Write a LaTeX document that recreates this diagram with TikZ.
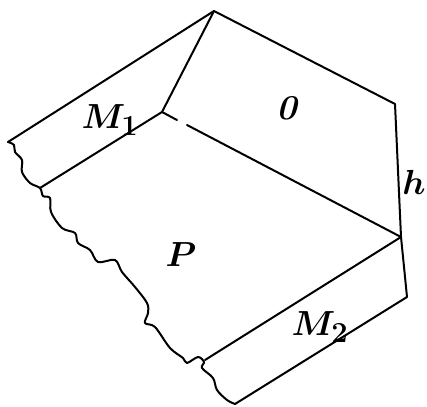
\documentclass[tikz,border=0pt]{standalone}
\tikzstyle{face} = [font=\fontsize{24.88}{25}\selectfont\boldmath\bfseries\itshape, inner sep=0pt, scale=1.4, transform shape]
\tikzstyle{edge} = [line width=2pt, line cap=round, line join=round]
\tikzstyle{torn} = [line width=2pt, line cap=round, line join=round, smooth, tension=0.55]

\begin{document}
\begin{tikzpicture}[x=1pt, y=-1pt]
\useasboundingbox (0,0) rectangle (427,406);
%corners
\coordinate (apex) at (214,11);
\coordinate (left) at (8,142);
\coordinate (inner) at (162,112);
\coordinate (gapa) at (177,120);
\coordinate (gapb) at (187,125);
\coordinate (tornone) at (40,188);
\coordinate (topright) at (395,104);
\coordinate (ridge) at (401,237);
\coordinate (botright) at (407,297);
\coordinate (torntwo) at (205,360);
\coordinate (bottom) at (235,404);
%begin edges
\draw[edge] (left) -- (apex) -- (topright) -- (ridge) -- (botright) -- (bottom);
\draw[edge] (apex) -- (inner) -- (tornone);
\draw[edge] (inner) -- (gapa);
\draw[edge] (gapb) -- (ridge) -- (torntwo);
%end edges
%begin torn side
\draw[torn] plot coordinates {(left) (14,145) (15,152) (22,160) (22,172) (30,183) (tornone)
    (43,196) (50,198) (51,212) (62,228) (75,233) (78,243) (90,250) (98,262) (115,260)
    (122,272) (135,287) (147,303) (148,313) (145,323) (155,327) (170,348) (183,358)
    (187,363) (198,357) (204,362) (202,368) (213,378) (217,390) (227,400) (bottom)};
%end torn side
%begin labels
\node[face] (mone) at (110,120) {$M_1$};
\node[face] (zero) at (287,108) {0};
\node[face] (pee) at (181,255) {$P$};
\node[face] (aitch) at (414,182) {$h$};
\node[face] (mtwo) at (320,327) {$M_2$};
%end labels
\end{tikzpicture}
\end{document}
